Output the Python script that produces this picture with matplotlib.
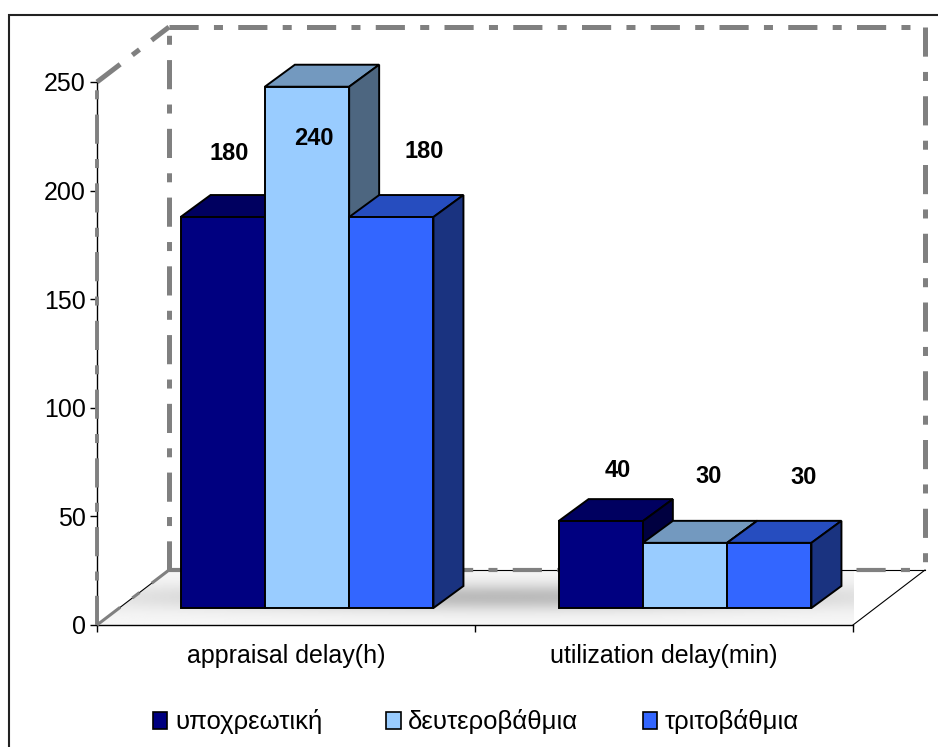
import numpy as np
import matplotlib.pyplot as plt
from matplotlib.patches import Polygon, Rectangle, Patch
from matplotlib.transforms import Affine2D
from matplotlib.colors import to_rgb

plt.rcParams['font.family'] = ['Liberation Sans', 'DejaVu Sans']
plt.rcParams['lines.scale_dashes'] = False

categories = ["appraisal delay(h)", "utilization delay(min)"]
series_names = ["υποχρεωτική", "δευτεροβάθμια", "τριτοβάθμια"]
obligatory = [180, 40]
secondary = [240, 30]
tertiary = [180, 30]
series_values = [obligatory, secondary, tertiary]
y_ticks = [0, 50, 100, 150, 200, 250]

front_colours = ["#000080", "#99CCFF", "#3366FF"]

# where each value label sits, in pixels from the top centre of its bar
label_offsets = [
    [(6, 64), (17, 51)],
    [(7, -52), (24, 66)],
    [(33, 66), (34, 65)],
]

wall_grey = "#808080"
dash = (0, (21, 11, 6.5, 11))


def shade(colour, k):
    r, g, b = to_rgb(colour)
    return (r * k, g * k, b * k)


W, H = 938, 747
fig = plt.figure(figsize=(W / 100, H / 100), dpi=100)
ax = fig.add_axes([97 / W, 122 / H, 756 / W, 543 / H])
ax.set_xlim(0, len(categories))
ax.set_ylim(y_ticks[0], y_ticks[-1])

# pixel -> data conversion for the oblique depth offsets
p0 = ax.transData.transform((0, 0))
p1 = ax.transData.transform((1, 1))
ppx, ppy = p1[0] - p0[0], p1[1] - p0[1]

wall_dx, wall_dy = 72 / ppx, 55 / ppy
bar_dx, bar_dy = 30 / ppx, 22 / ppy
bar_tr = ax.transData + Affine2D().translate(21, 17)

x_end = len(categories)
y_top = y_ticks[-1]

# floor with a soft shadow behind the bars
floor = Polygon([(0, 0), (x_end, 0), (x_end + wall_dx, wall_dy), (wall_dx, wall_dy)],
                closed=True, facecolor="none", edgecolor="none", transform=ax.transData)
ax.add_patch(floor)
gx = np.linspace(0, x_end + wall_dx, 400)
gy = np.linspace(0, wall_dy, 80)
GX, GY = np.meshgrid(gx, gy)
t = GY / wall_dy
img = 0.965 - 0.23 * np.exp(-(t - 0.5) ** 2 / (2 * 0.17 ** 2)) * np.exp(-(GX - 1.07) ** 2 / (2 * 0.66 ** 2))
ax.imshow(img, extent=(0, x_end + wall_dx, 0, wall_dy), origin="lower", cmap="gray",
          vmin=0, vmax=1, aspect="auto", interpolation="bilinear", zorder=1, clip_path=floor)

# thin black floor edges
ax.plot([x_end, x_end + wall_dx], [0, wall_dy], color="black", lw=0.8, clip_on=False, zorder=2)
ax.plot([wall_dx, x_end + wall_dx], [wall_dy, wall_dy], color="black", lw=0.8, clip_on=False, zorder=2)
ax.plot([0, wall_dx], [0, wall_dy], color="black", lw=0.8, clip_on=False, zorder=2)

# dashed wall outlines
bl = (wall_dx, wall_dy)
br = (x_end + wall_dx, wall_dy)
tl = (wall_dx, y_top + wall_dy)
tr = (x_end + wall_dx, y_top + wall_dy)
for (xa, ya), (xb, yb), lw in [
    ((0, y_top), tl, 3.6),
    (tl, tr, 3.6),
    (tr, br, 3.6),
    (bl, tl, 3.6),
    (bl, br, 3.0),
    ((0, 0), (0, y_top), 2.8),
    ((0, 0), bl, 2.2),
]:
    ax.plot([xa, xb], [ya, yb], color=wall_grey, lw=lw, ls=dash,
            solid_capstyle="butt", dash_capstyle="butt", clip_on=False, zorder=3)

# 3-D bars: front face, top and right side
bar_w = 0.223
for j, (vals, colour) in enumerate(zip(series_values, front_colours)):
    lefts = [i + 0.5 - 1.5 * bar_w + j * bar_w for i in range(len(categories))]
    z = 10 + 3 * j
    for x0, h in zip(lefts, vals):
        x1 = x0 + bar_w
        ax.add_patch(Polygon([(x0, h), (x1, h), (x1 + bar_dx, h + bar_dy), (x0 + bar_dx, h + bar_dy)],
                             closed=True, facecolor=shade(colour, 0.75), edgecolor="black",
                             lw=1.4, transform=bar_tr, clip_on=False, zorder=z))
        ax.add_patch(Polygon([(x1, 0), (x1 + bar_dx, bar_dy), (x1 + bar_dx, h + bar_dy), (x1, h)],
                             closed=True, facecolor=shade(colour, 0.5), edgecolor="black",
                             lw=1.4, transform=bar_tr, clip_on=False, zorder=z))
    ax.bar(lefts, vals, width=bar_w, align="edge", color=colour, edgecolor="black",
           linewidth=1.4, transform=bar_tr, clip_on=False, zorder=z + 1)
    for x0, h, (odx, ody) in zip(lefts, vals, label_offsets[j]):
        ax.annotate(f"{h}", xy=(x0 + bar_w / 2, h), xycoords=bar_tr,
                    xytext=(odx, ody), textcoords="offset pixels",
                    ha="center", va="center", fontsize=17, fontweight="bold", zorder=30)

# axes styling
for side in ["top", "right"]:
    ax.spines[side].set_visible(False)
ax.spines["left"].set_linewidth(1.0)
ax.spines["bottom"].set_linewidth(1.0)
ax.set_yticks(y_ticks)
ax.tick_params(axis="y", direction="out", length=5, width=1, labelsize=18, pad=3)
ax.set_xticks(range(len(categories) + 1))
ax.set_xticklabels([])
ax.tick_params(axis="x", which="major", direction="out", length=5, width=1)
ax.set_xticks([i + 0.5 for i in range(len(categories))], minor=True)
ax.set_xticklabels(categories, minor=True)
ax.tick_params(axis="x", which="minor", length=0, labelsize=18, pad=14)
ax.patch.set_visible(False)
ax.set_xlim(0, len(categories))
ax.set_ylim(y_ticks[0], y_ticks[-1])

# chart area border
fig.add_artist(Rectangle((9 / W, -0.05), 1.0, 1 - 15 / H + 0.05, transform=fig.transFigure,
                         fill=False, edgecolor="#222222", lw=1.5, clip_on=False))

handles = [Patch(facecolor=c, edgecolor="black", linewidth=1.2) for c in front_colours]
fig.legend(handles, series_names, loc="center", bbox_to_anchor=(476 / W, 1 - 722 / H),
           ncol=3, frameon=False, fontsize=18.5, handlelength=0.55, handleheight=0.6,
           handletextpad=0.3, columnspacing=2.5)

fig.savefig("out.png", dpi=100)
